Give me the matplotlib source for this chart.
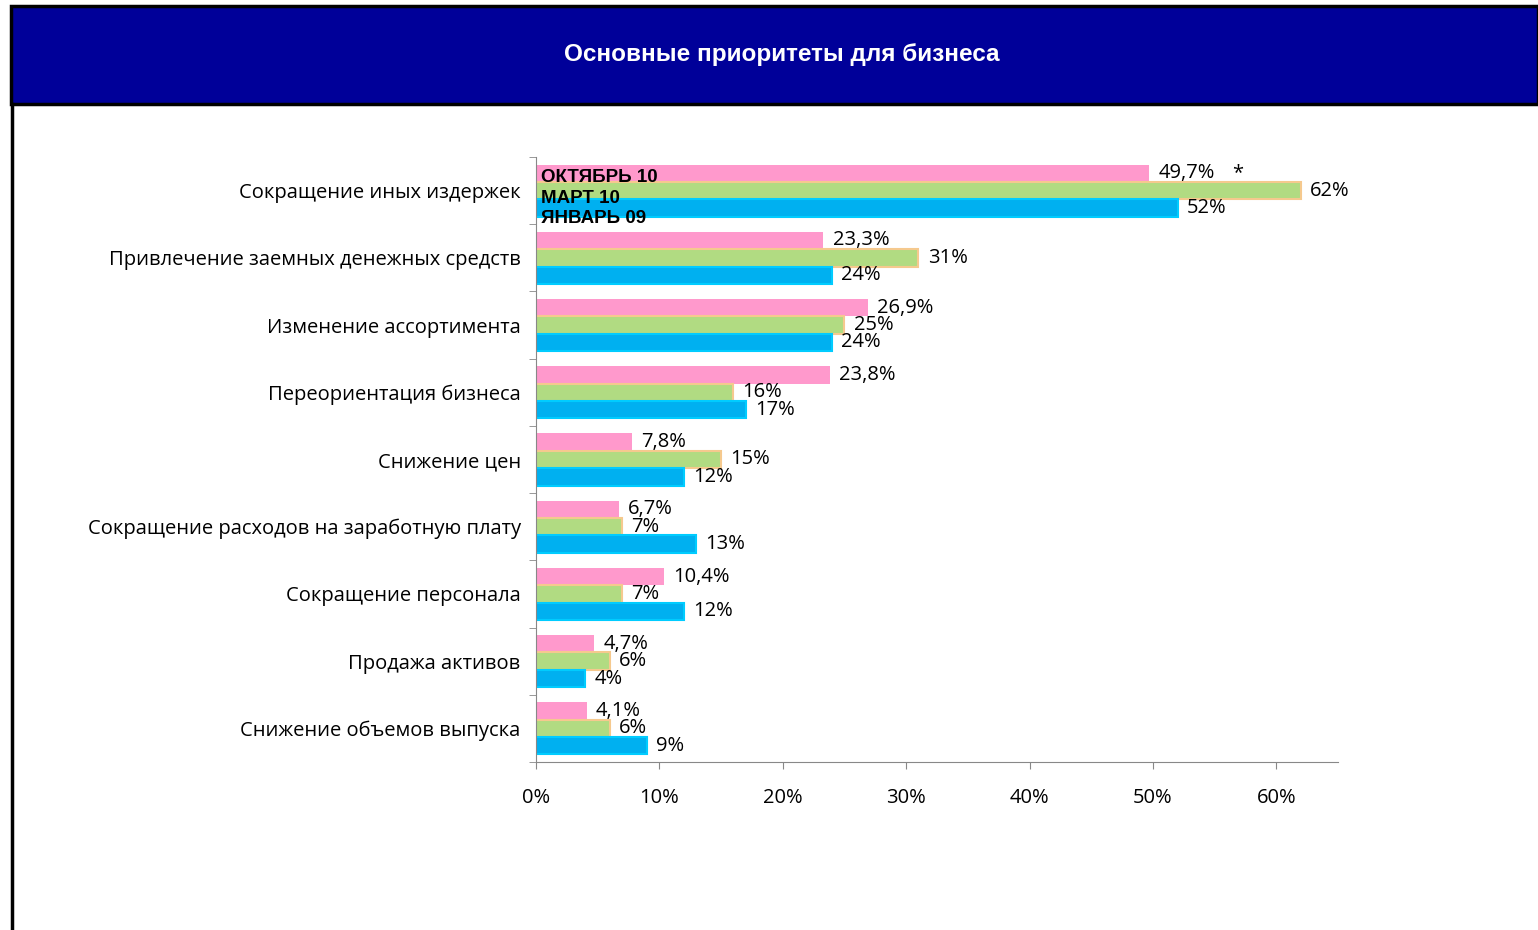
import numpy as np
import matplotlib.pyplot as plt
from matplotlib.patches import Rectangle

categories = ['Сокращение иных издержек', 'Привлечение заемных денежных средств',
              'Изменение ассортимента', 'Переориентация бизнеса', 'Снижение цен',
              'Сокращение расходов на заработную плату', 'Сокращение персонала',
              'Продажа активов', 'Снижение объемов выпуска']
okt10 = [49.7, 23.3, 26.9, 23.8, 7.8, 6.7, 10.4, 4.7, 4.1]
mar10 = [62, 31, 25, 16, 15, 7, 7, 6, 6]
jan09 = [52, 24, 24, 17, 12, 13, 12, 4, 9]
okt10_labels = ['49,7%', '23,3%', '26,9%', '23,8%', '7,8%', '6,7%', '10,4%', '4,7%', '4,1%']
mar10_labels = ['62%', '31%', '25%', '16%', '15%', '7%', '7%', '6%', '6%']
jan09_labels = ['52%', '24%', '24%', '17%', '12%', '13%', '12%', '4%', '9%']
series_names = ['ОКТЯБРЬ 10', 'МАРТ 10', 'ЯНВАРЬ 09']

plt.rcParams['font.family'] = ['Open Sans', 'DejaVu Sans']

fig = plt.figure(figsize=(15.38, 9.30), dpi=100)

# рамка и синяя шапка
fig.patches.append(Rectangle((11 / 1538, 826 / 930), 1527 / 1538, 98 / 930,
                             transform=fig.transFigure, facecolor='#000099',
                             edgecolor='black', linewidth=2.5))
fig.add_artist(plt.Line2D([12 / 1538, 12 / 1538], [0, 826 / 930],
                          transform=fig.transFigure, color='black', linewidth=2.5))
fig.text(782 / 1538, 1 - 54 / 930, 'Основные приоритеты для бизнеса', color='white',
         fontsize=17.5, fontweight='bold', family='Liberation Sans',
         ha='center', va='center')

ax = fig.add_axes([536 / 1538, 1 - 762 / 930, 802 / 1538, 605 / 930])

n = len(categories)
y = np.arange(n)
h = 0.258

ax.barh(y - h, okt10, height=h, color='#FF99CC', linewidth=0)
ax.barh(y, mar10, height=h, color='#B1DB82', edgecolor='#F5C98E', linewidth=1.5)
ax.barh(y + h, jan09, height=h, color='#00B0F0', edgecolor='#00CCFF', linewidth=1.5)

fs = 14.5
for i in range(n):
    ax.text(okt10[i] + 0.75, y[i] - h, okt10_labels[i], va='center', ha='left', fontsize=fs)
    ax.text(mar10[i] + 0.75, y[i], mar10_labels[i], va='center', ha='left', fontsize=fs)
    ax.text(jan09[i] + 0.75, y[i] + h, jan09_labels[i], va='center', ha='left', fontsize=fs)

ax.text(56.9, -h, '*', va='center', ha='center', fontsize=fs)

# подписи рядов прямо на первых столбцах
for k, name in enumerate(series_names):
    ax.text(0.4, -0.2 + 0.31 * k, name, va='center', ha='left', fontsize=13.5,
            fontweight='bold', family='Liberation Sans')

ax.set_xlim(0, 65)
ax.set_ylim(n - 0.5, -0.5)
ax.set_xticks(np.arange(0, 61, 10))
ax.set_xticklabels([f'{v}%' for v in range(0, 61, 10)], fontsize=fs)
ax.set_yticks(y)
ax.set_yticklabels(categories, fontsize=14.5)
ax.set_yticks(np.arange(-0.5, n, 1), minor=True)
ax.tick_params(axis='y', which='major', length=0, pad=11)
ax.tick_params(axis='y', which='minor', length=5, color='#888888', direction='out')
ax.tick_params(axis='x', length=5, color='#888888', pad=14)

for s in ['top', 'right']:
    ax.spines[s].set_visible(False)
for s in ['left', 'bottom']:
    ax.spines[s].set_color('#888888')

fig.savefig('out.png', dpi=100)
